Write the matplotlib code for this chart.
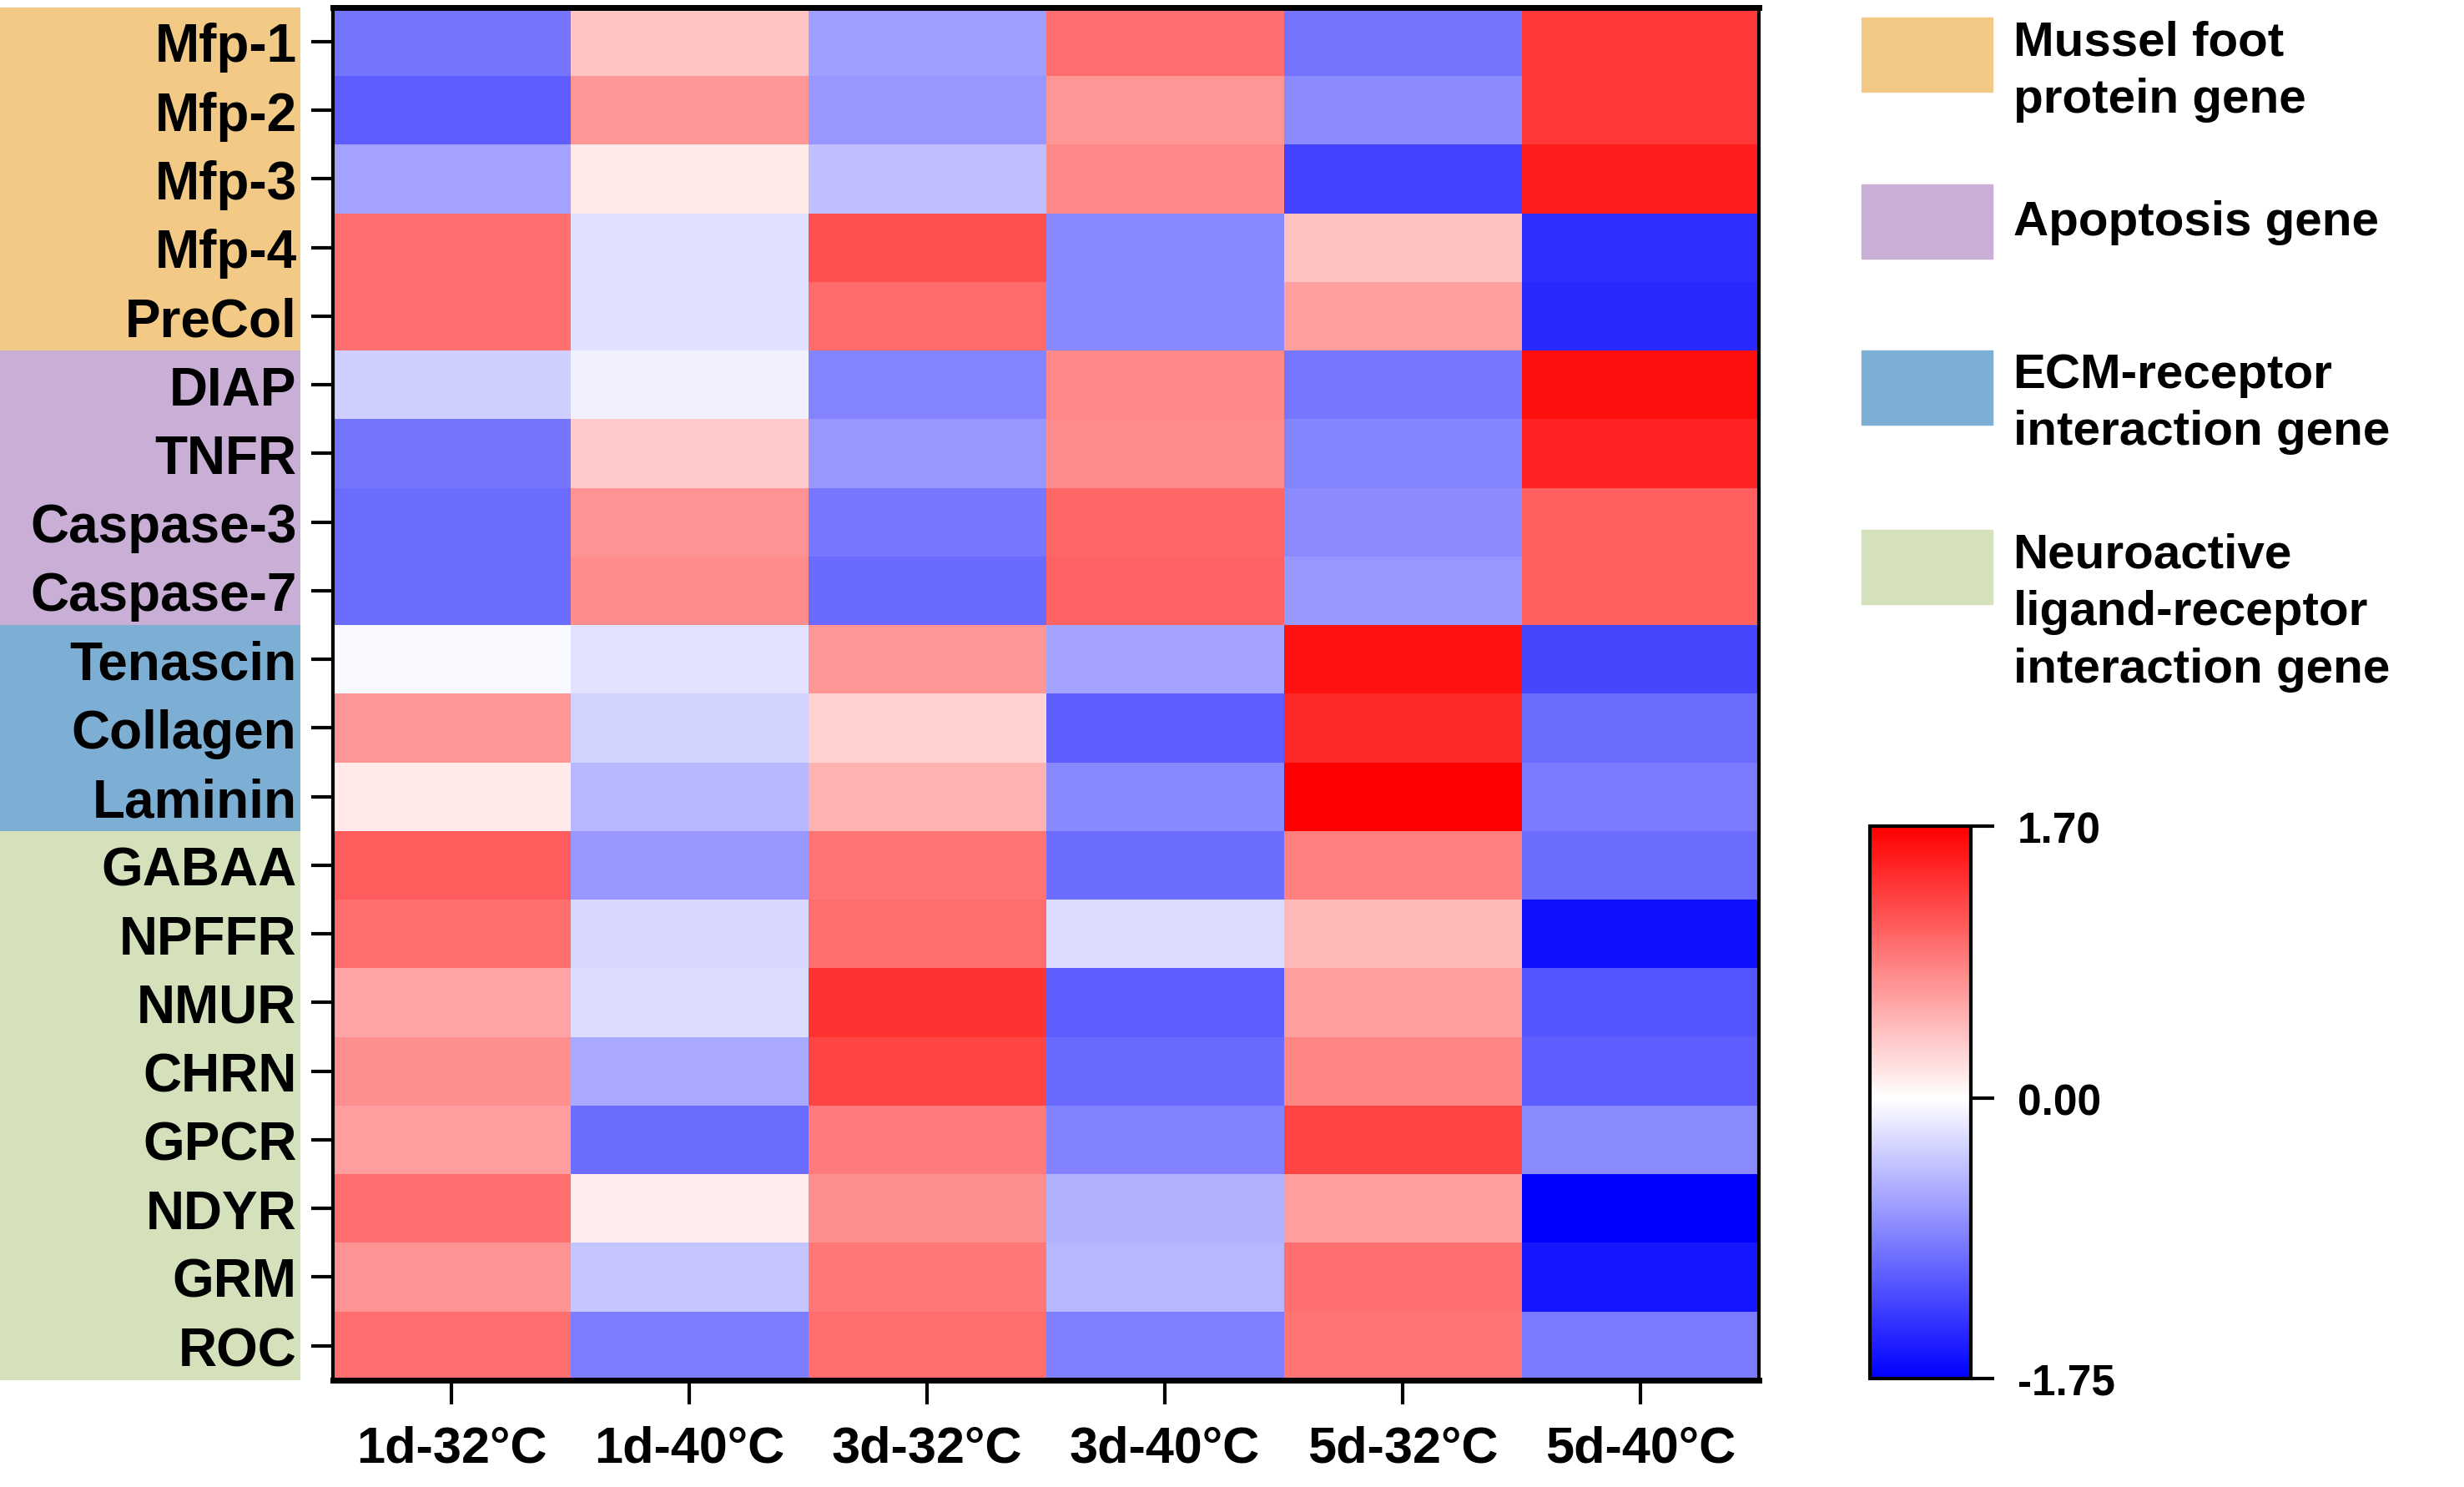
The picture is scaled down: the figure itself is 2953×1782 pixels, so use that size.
import matplotlib
matplotlib.use("Agg")
import matplotlib.pyplot as plt
import numpy as np
from matplotlib.colors import LinearSegmentedColormap, Normalize
from matplotlib.patches import Rectangle

plt.rcParams['font.family'] = ['Liberation Sans', 'DejaVu Sans']
plt.rcParams['font.weight'] = 'bold'

genes = ['Mfp-1', 'Mfp-2', 'Mfp-3', 'Mfp-4', 'PreCol',
         'DIAP', 'TNFR', 'Caspase-3', 'Caspase-7',
         'Tenascin', 'Collagen', 'Laminin',
         'GABAA', 'NPFFR', 'NMUR', 'CHRN', 'GPCR', 'NDYR', 'GRM', 'ROC']
conditions = ['1d-32°C', '1d-40°C', '3d-32°C', '3d-40°C', '5d-32°C', '5d-40°C']

# log-scaled expression
values = np.array([
    [-0.95,  0.39, -0.65,  0.95, -0.95,  1.31],
    [-1.10,  0.70, -0.70,  0.70, -0.78,  1.31],
    [-0.63,  0.15, -0.43,  0.78, -1.28,  1.49],
    [ 0.95, -0.21,  1.17, -0.82,  0.40, -1.42],
    [ 0.95, -0.21,  0.98, -0.82,  0.64, -1.46],
    [-0.33, -0.10, -0.84,  0.78, -0.93,  1.60],
    [-0.95,  0.35, -0.70,  0.77, -0.84,  1.46],
    [-1.00,  0.72, -0.93,  1.00, -0.79,  1.06],
    [-1.00,  0.77, -1.01,  1.03, -0.70,  1.06],
    [-0.05, -0.20,  0.69, -0.62,  1.57, -1.26],
    [ 0.70, -0.30,  0.31, -1.10,  1.43, -1.00],
    [ 0.15, -0.49,  0.51, -0.82,  1.70, -0.91],
    [ 1.07, -0.70,  0.93, -1.00,  0.85, -1.00],
    [ 0.97, -0.26,  0.97, -0.24,  0.47, -1.64],
    [ 0.60, -0.24,  1.36, -1.10,  0.64, -1.15],
    [ 0.75, -0.58,  1.23, -1.01,  0.80, -1.10],
    [ 0.64, -1.00,  0.87, -0.85,  1.24, -0.80],
    [ 0.95,  0.11,  0.75, -0.53,  0.64, -1.75],
    [ 0.72, -0.39,  0.90, -0.49,  0.95, -1.58],
    [ 0.95, -0.90,  0.97, -0.88,  0.93, -0.91],
])

group_names = ['Mussel foot\nprotein gene', 'Apoptosis gene',
               'ECM-receptor\ninteraction gene',
               'Neuroactive\nligand-receptor\ninteraction gene']
group_sizes = [5, 4, 3, 8]
group_colors = ['#F2C985', '#C9AED6', '#7DAED4', '#D4E1BB']

vmin, vmax = -1.75, 1.70
cmap = LinearSegmentedColormap.from_list(
    'bwr_custom', [(0, '#0000FF'), (-vmin / (vmax - vmin), '#FFFFFF'), (1, '#FF0000')])
norm = Normalize(vmin=vmin, vmax=vmax)

fig = plt.figure(figsize=(29.53, 17.83), dpi=100)

left, bottom, width, height = 0.135, 0.072, 0.579, 0.9225

# coloured group strip behind the gene labels
ax_s = fig.add_axes([0, bottom, 0.122, height], zorder=0)
row_colors = np.repeat(group_colors, group_sizes)
ax_s.barh(np.arange(len(genes)), 1, height=1.0, color=row_colors, left=0)
ax_s.set_xlim(0, 1)
ax_s.set_ylim(len(genes) - 0.5, -0.5)
ax_s.axis('off')

ax = fig.add_axes([left, bottom, width, height], zorder=2)
ax.patch.set_alpha(0)
im = ax.imshow(values, cmap=cmap, norm=norm, aspect='auto', interpolation='nearest')
ax.set_yticks(np.arange(len(genes)))
ax.set_yticklabels(genes, fontsize=46, fontweight='bold')
ax.set_xticks(np.arange(len(conditions)))
ax.set_xticklabels(conditions, fontsize=44, fontweight='bold')
ax.tick_params(axis='y', length=19, width=3, pad=12)
ax.tick_params(axis='x', length=21, width=3, pad=18)
for side in ['left', 'right']:
    ax.spines[side].set_linewidth(3)
for side in ['top', 'bottom']:
    ax.spines[side].set_linewidth(5)

# legend for gene groups
patch_y = [22, 222, 421, 636]
text_y = [86, 267, 484, 734]
H = 1783.0
for name, col, py, ty in zip(group_names, group_colors, patch_y, text_y):
    fig.patches.append(Rectangle((0.7555, 1 - (py + 89) / H), 0.0532, 89 / H,
                                 transform=fig.transFigure, color=col))
    fig.text(0.817, 1 - ty / H, name, fontsize=42, fontweight='bold',
             va='center', ha='left', linespacing=1.35)

# colorbar
cax = fig.add_axes([0.759, 0.073, 0.041, 0.371])
cb = fig.colorbar(im, cax=cax, ticks=[vmax, 0.0, vmin])
cb.ax.set_yticklabels(['%.2f' % v for v in [vmax, 0.0, vmin]], fontsize=37, fontweight='bold')
cb.ax.tick_params(length=20, width=3, pad=20)
cb.outline.set_linewidth(3)

fig.savefig('out.png', dpi=100)
